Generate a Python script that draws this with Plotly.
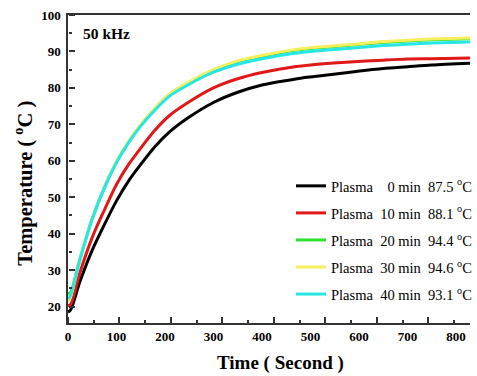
import plotly.graph_objects as go

# ---- data ----
time_s = [0, 5, 25, 50, 75, 100, 125, 150, 180, 210, 250, 300, 350, 400, 467, 500, 582, 650, 700, 750, 830]
plasma_0 = [18.5, 19.0, 27.0, 35.5, 42.5, 49.0, 54.5, 59.0, 64.0, 68.0, 72.0, 76.0, 78.8, 80.8, 82.4, 83.0, 84.3, 85.3, 85.8, 86.3, 86.8]
plasma_10 = [20.3, 20.5, 29.5, 39.0, 46.5, 53.5, 59.0, 63.5, 68.5, 72.5, 76.2, 80.0, 82.5, 84.2, 85.8, 86.3, 87.1, 87.6, 87.9, 88.0, 88.2]
plasma_20 = [23.5, 23.8, 33.3, 44.2, 52.7, 59.7, 65.2, 69.8, 74.4, 78.2, 81.5, 84.8, 87.2, 88.7, 90.3, 90.8, 91.7, 92.5, 92.9, 93.2, 93.5]
plasma_30 = [21.5, 22.5, 33.0, 44.0, 52.6, 59.7, 65.3, 69.9, 74.5, 78.4, 81.7, 85.0, 87.4, 88.9, 90.5, 91.0, 91.9, 92.7, 93.1, 93.4, 93.7]
plasma_40 = [22.0, 23.0, 33.0, 44.0, 52.5, 59.5, 65.0, 69.5, 74.0, 77.8, 81.0, 84.3, 86.5, 88.0, 89.5, 90.0, 90.9, 91.6, 92.0, 92.3, 92.6]

series_names = [
    "Plasma\u00a0\u00a0\u00a0\u00a00 min\u00a0\u00a087.5 <sup>o</sup>C",
    "Plasma\u00a0\u00a010 min\u00a0\u00a088.1 <sup>o</sup>C",
    "Plasma\u00a0\u00a020 min\u00a0\u00a094.4 <sup>o</sup>C",
    "Plasma\u00a0\u00a030 min\u00a0\u00a094.6 <sup>o</sup>C",
    "Plasma\u00a0\u00a040 min\u00a0\u00a093.1 <sup>o</sup>C",
]
series_values = [plasma_0, plasma_10, plasma_20, plasma_30, plasma_40]
series_colors = ["#000000", "#e01818", "#2ee02e", "#f4ef5a", "#28e6e6"]

x_ticks = [0, 100, 200, 300, 400, 500, 600, 700, 800]
y_ticks = [20, 30, 40, 50, 60, 70, 80, 90, 100]

FONT = "Liberation Serif, Times New Roman, serif"
AXC = "#333"

fig = go.Figure()
for i, (name, vals, col) in enumerate(zip(series_names, series_values, series_colors)):
    fig.add_trace(go.Scatter(
        x=time_s, y=vals, mode="lines", name=name,
        line=dict(color=col, width=3, shape="spline", smoothing=0.8),
        legendgroup=f"g{i}",
    ))

# empty traces so that the tick-only overlay axes get drawn
for xa, ya in [("x2", "y"), ("x3", "y"), ("x", "y2"), ("x", "y3")]:
    fig.add_trace(go.Scatter(x=[0], y=[None], xaxis=xa, yaxis=ya, mode="lines",
                             showlegend=False, hoverinfo="skip"))

# tick-only axes placed on the plot edges, with "outside" ticks pointing into the plot
tick_only = dict(showticklabels=False, showgrid=False, zeroline=False, showline=False,
                 tickmode="linear", tick0=0, ticks="outside", tickcolor=AXC, tickwidth=1.5,
                 anchor="free", position=0)

fig.update_layout(
    template="none",
    width=477, height=376,
    margin=dict(l=68, r=0, t=15, b=53),
    paper_bgcolor="white", plot_bgcolor="white",
    font=dict(family=FONT, color="black"),
    showlegend=True,
    legend=dict(
        x=0.555, y=0.497, xanchor="left", yanchor="top",
        bgcolor="rgba(0,0,0,0)", borderwidth=0,
        font=dict(family=FONT, size=14.5, color="black"),
        tracegroupgap=5.2, itemwidth=30,
    ),
    xaxis=dict(
        range=[0, 829], tickmode="array", tickvals=x_ticks, ticks="",
        showline=True, linecolor=AXC, linewidth=1.5, mirror=True,
        showgrid=False, zeroline=False,
        tickfont=dict(family=FONT, size=13, color="black", weight="bold"),
        ticklabelstandoff=1,
    ),
    xaxis2=dict(overlaying="x", side="top", range=[0, 781], dtick=100, ticklen=6, **tick_only),
    xaxis3=dict(overlaying="x", side="top", range=[0, 781], dtick=50, ticklen=3, **tick_only),
    yaxis=dict(
        range=[15.5, 100], tickmode="array", tickvals=y_ticks, ticks="",
        showline=True, linecolor=AXC, linewidth=1.5,
        showgrid=False, zeroline=False,
        tickfont=dict(family=FONT, size=13, color="black", weight="bold"),
        ticklabelstandoff=3,
    ),
    yaxis2=dict(overlaying="y", side="right", range=[15.5, 100], dtick=10, ticklen=6, **tick_only),
    yaxis3=dict(overlaying="y", side="right", range=[15.5, 100], dtick=5, ticklen=3, **tick_only),
    annotations=[
        dict(text="<b>50 kHz</b>", xref="paper", yref="paper", x=0.032, y=0.94,
             xanchor="left", yanchor="middle", showarrow=False,
             font=dict(family=FONT, size=15.5, color="black")),
        dict(text="<b>Time ( Second )</b>", xref="paper", yref="paper", x=0.529, y=-0.13,
             xanchor="center", yanchor="middle", showarrow=False,
             font=dict(family=FONT, size=19, color="black")),
        dict(text="<b>Temperature ( <sup>o</sup>C )</b>", xref="paper", yref="paper", x=-0.11, y=0.455,
             xanchor="center", yanchor="middle", showarrow=False, textangle=-90,
             font=dict(family=FONT, size=20.5, color="black")),
    ],
)

fig.write_html("out.html", config={"displayModeBar": False},
               post_script="document.body.style.margin='0';")
